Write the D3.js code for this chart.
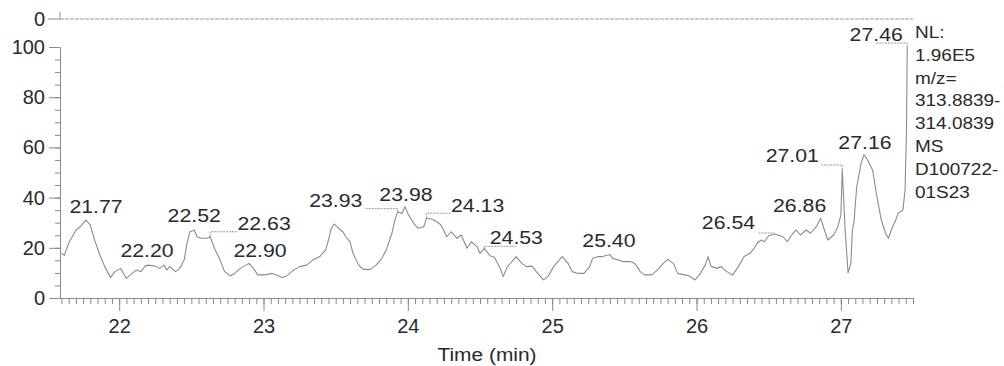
<!DOCTYPE html>
<html>
<head>
<meta charset="utf-8">
<script src="https://cdn.jsdelivr.net/npm/d3@7"></script>
<style>
  html, body { margin: 0; padding: 0; background: #fff; }
  svg { display: block; }
  text { font-family: "Liberation Sans", Arial, sans-serif; fill: #2a2a2a; }
</style>
</head>
<body>
<svg id="chart" width="1004" height="366"></svg>
<script>
// ---------------- DATA ----------------
const times = [
  21.60, 21.62, 21.65, 21.70, 21.73, 21.77, 21.80, 21.83, 21.87, 21.90,
  21.94, 21.97, 22.01, 22.03, 22.05, 22.09, 22.12, 22.15, 22.18, 22.20,
  22.25, 22.28, 22.31, 22.33, 22.35, 22.39, 22.42, 22.45, 22.47, 22.49,
  22.52, 22.54, 22.57, 22.61, 22.63, 22.66, 22.70, 22.73, 22.77, 22.80,
  22.83, 22.86, 22.90, 22.93, 22.96, 23.01, 23.06, 23.09, 23.13, 23.16,
  23.21, 23.25, 23.30, 23.34, 23.39, 23.43, 23.45, 23.47, 23.49, 23.52,
  23.55, 23.57, 23.60, 23.62, 23.66, 23.69, 23.74, 23.78, 23.82, 23.85,
  23.89, 23.91, 23.93, 23.96, 23.98, 24.00, 24.04, 24.07, 24.11, 24.13,
  24.17, 24.20, 24.23, 24.27, 24.30, 24.34, 24.37, 24.41, 24.44, 24.48,
  24.50, 24.53, 24.57, 24.60, 24.64, 24.66, 24.69, 24.73, 24.75, 24.79,
  24.82, 24.86, 24.89, 24.94, 24.97, 25.01, 25.04, 25.07, 25.11, 25.14,
  25.18, 25.22, 25.26, 25.28, 25.32, 25.35, 25.40, 25.42, 25.46, 25.49,
  25.54, 25.57, 25.59, 25.61, 25.64, 25.69, 25.73, 25.77, 25.80, 25.84,
  25.87, 25.92, 25.95, 25.99, 26.02, 26.06, 26.08, 26.10, 26.14, 26.17,
  26.21, 26.25, 26.29, 26.33, 26.37, 26.40, 26.42, 26.45, 26.47, 26.50,
  26.54, 26.57, 26.60, 26.63, 26.65, 26.69, 26.72, 26.76, 26.79, 26.83,
  26.86, 26.89, 26.91, 26.95, 26.98, 27.00, 27.01, 27.03, 27.05, 27.07,
  27.08, 27.09, 27.11, 27.14, 27.16, 27.18, 27.22, 27.25, 27.28, 27.31,
  27.33, 27.35, 27.38, 27.40, 27.43, 27.445, 27.455, 27.46
];
const intensity = [
  17.9, 17.0, 21.8, 27.0, 28.4, 31.0, 29.0, 23.0, 16.5, 12.5,
  8.2, 10.5, 11.8, 9.8, 7.8, 9.8, 11.2, 10.5, 12.7, 13.1,
  12.7, 11.8, 13.1, 11.2, 12.5, 10.5, 11.8, 15.1, 21.8, 26.4,
  27.1, 24.4, 23.8, 23.8, 24.4, 19.8, 15.1, 10.5, 8.8, 9.8,
  11.4, 12.5, 13.8, 11.8, 9.2, 9.2, 9.8, 9.2, 8.2, 8.8,
  11.2, 12.5, 13.1, 15.1, 16.5, 19.1, 23.1, 27.8, 29.5, 27.8,
  26.4, 24.4, 22.4, 17.8, 13.1, 11.4, 11.4, 13.1, 15.8, 19.1,
  25.8, 31.0, 34.4, 33.7, 36.4, 33.7, 29.8, 27.8, 28.4, 31.8,
  31.4, 30.4, 29.1, 24.4, 26.4, 23.8, 25.1, 19.8, 22.4, 20.4,
  17.8, 19.8, 16.8, 16.2, 11.8, 8.5, 12.5, 15.1, 16.5, 13.8,
  12.5, 12.7, 10.5, 7.2, 8.5, 12.5, 14.5, 16.5, 13.8, 10.5,
  9.8, 9.8, 12.5, 15.8, 16.5, 16.5, 17.3, 15.8, 15.1, 14.5,
  14.5, 13.8, 12.5, 10.5, 9.2, 9.2, 11.2, 13.8, 15.4, 13.8,
  9.8, 9.2, 8.8, 7.2, 9.2, 13.1, 16.5, 12.7, 11.8, 12.5,
  10.5, 9.2, 12.5, 16.5, 17.8, 19.8, 21.8, 23.1, 22.4, 24.8,
  25.5, 25.0, 24.4, 22.4, 24.4, 27.1, 25.1, 27.1, 25.8, 28.4,
  31.8, 26.4, 23.1, 25.1, 28.4, 33.0, 51.0, 27.0, 10.0, 14.0,
  27.0, 29.8, 44.3, 53.6, 57.0, 55.6, 51.0, 40.4, 31.1, 25.8,
  23.8, 27.1, 31.1, 34.0, 35.0, 43.0, 67.0, 100.0
];

const peakTimes  = [21.77, 22.20, 22.52, 22.63, 22.90, 23.93, 23.98, 24.13, 24.53, 25.40, 26.54, 26.86, 27.01, 27.16, 27.46];
const peakValues = [31.0, 13.1, 27.1, 24.4, 13.8, 34.4, 36.4, 31.8, 19.8, 17.3, 25.5, 31.8, 51.0, 57.0, 100.0];
const peakLabels = ["21.77", "22.20", "22.52", "22.63", "22.90", "23.93", "23.98", "24.13", "24.53", "25.40", "26.54", "26.86", "27.01", "27.16", "27.46"];

const xTickValues = [22, 23, 24, 25, 26, 27];
const yTickValues = [0, 20, 40, 60, 80, 100];
const xTitle = "Time (min)";
const infoLines = ["NL:", "1.96E5", "m/z=", "313.8839-", "314.0839", "MS", "D100722-", "01S23"];

// ---------------- LAYOUT (pixel offsets, not data) ----------------
const labelLayout = [
  { dx: 10,  dy: -7, lead: null },
  { dx: -1,  dy: -8, lead: null },
  { dx: 0,   dy: -8, lead: null },
  { dx: 54,  dy: -7, lead: [27, -5] },
  { dx: 11,  dy: -6, lead: null },
  { dx: -62, dy: -5, lead: [-33, -3] },
  { dx: 1,   dy: -6, lead: null },
  { dx: 51,  dy: -6, lead: [25, -5] },
  { dx: 32,  dy: -4, lead: [32, -2] },
  { dx: -1,  dy: -8, lead: null },
  { dx: -46, dy: -5, lead: [-17, -1] },
  { dx: -21, dy: -6, lead: null },
  { dx: -50, dy: -8, lead: [-22, -5] },
  { dx: 1,   dy: -6, lead: null },
  { dx: -31, dy: -6, lead: [-31, -4] }
];

const svg = d3.select("#chart");
const lineColor = "#8c8c8c";
const axisColor = "#8a8a8a";

const x = d3.scaleLinear().domain([21.59, 27.50]).range([60, 913]);
const y = d3.scaleLinear().domain([0, 100]).range([298, 47]);
const yTop = d3.scaleLinear().domain([0, 100]).range([19, -230]);

// ---------------- top mini panel ----------------
const topPanel = svg.append("g");
topPanel.append("line").attr("x1", 48).attr("x2", 60).attr("y1", yTop(0)).attr("y2", yTop(0))
  .attr("stroke", axisColor);
topPanel.append("line").attr("x1", 60).attr("x2", 60).attr("y1", 12).attr("y2", yTop(0))
  .attr("stroke", axisColor);
topPanel.append("text").attr("x", 45).attr("y", yTop(0)).attr("dy", "0.35em")
  .attr("text-anchor", "end").style("font-size", "20px").text("0");
topPanel.append("path")
  .attr("fill", "none")
  .attr("stroke", "#9a9a9a")
  .attr("stroke-width", 1)
  .attr("stroke-dasharray", "4,1")
  .attr("d", d3.line().x(d => x(d)).y(() => yTop(0))([x.domain()[0]].concat(times, [x.domain()[1]])));

// ---------------- axes ----------------
const yMinor = d3.range(0, 101, 5);
svg.append("g").attr("transform", "translate(60,0)")
  .call(d3.axisLeft(y).tickValues(yMinor).tickSize(5).tickFormat("").tickSizeOuter(0))
  .call(g => g.selectAll("line,path").attr("stroke", axisColor));
svg.append("g").attr("transform", "translate(60,0)")
  .call(d3.axisLeft(y).tickValues(yTickValues).tickSize(11).tickPadding(4).tickSizeOuter(0))
  .call(g => g.selectAll("line,path").attr("stroke", axisColor))
  .call(g => g.selectAll("text").style("font-size", "20px")
      .style("font-family", '"Liberation Sans", Arial, sans-serif').attr("fill", "#2a2a2a"));

const xMinor = d3.range(21.60, 27.501, 0.05).map(v => Math.round(v * 100) / 100);
svg.append("g").attr("transform", "translate(0,298)")
  .call(d3.axisBottom(x).tickValues(xMinor).tickSize(6).tickFormat("").tickSizeOuter(0))
  .call(g => g.selectAll("line,path").attr("stroke", axisColor));
svg.append("g").attr("transform", "translate(0,298)")
  .call(d3.axisBottom(x).tickValues(xTickValues).tickFormat(d3.format("d"))
      .tickSize(13).tickPadding(8).tickSizeOuter(0))
  .call(g => g.selectAll("line,path").attr("stroke", axisColor))
  .call(g => g.selectAll("text").style("font-size", "20px")
      .style("font-family", '"Liberation Sans", Arial, sans-serif').attr("fill", "#2a2a2a"));

svg.append("text")
  .attr("transform", `translate(${(x(24) + x(25)) / 2 + 7},361) scale(1.1,1)`)
  .attr("text-anchor", "middle").style("font-size", "19px").text(xTitle);

// ---------------- trace ----------------
svg.append("path")
  .datum(times.map((t, i) => [t, intensity[i]]))
  .attr("fill", "none")
  .attr("stroke", lineColor)
  .attr("stroke-width", 1.1)
  .attr("stroke-linejoin", "round")
  .attr("d", d3.line().x(d => x(d[0])).y(d => y(d[1])));

// ---------------- peak labels ----------------
const lab = svg.append("g");
peakTimes.forEach((t, i) => {
  const px = x(t), py = y(peakValues[i]);
  const L = labelLayout[i];
  if (L.lead) {
    lab.append("path")
      .attr("d", `M${px},${py}V${py + L.lead[1]}H${px + L.lead[0]}`)
      .attr("fill", "none").attr("stroke", "#9a9a9a").attr("stroke-width", 1)
      .attr("stroke-dasharray", "2,1");
  }
  lab.append("text")
    .attr("transform", `translate(${px + L.dx},${py + L.dy}) scale(1.12,1)`)
    .attr("text-anchor", "middle").style("font-size", "19px").text(peakLabels[i]);
});

// ---------------- info text ----------------
const info = svg.append("g");
infoLines.forEach((s, i) => {
  info.append("text")
    .attr("transform", `translate(915,${38 + i * 22.8}) scale(1.15,1)`)
    .style("font-size", "16.5px").text(s);
});
</script>
</body>
</html>
